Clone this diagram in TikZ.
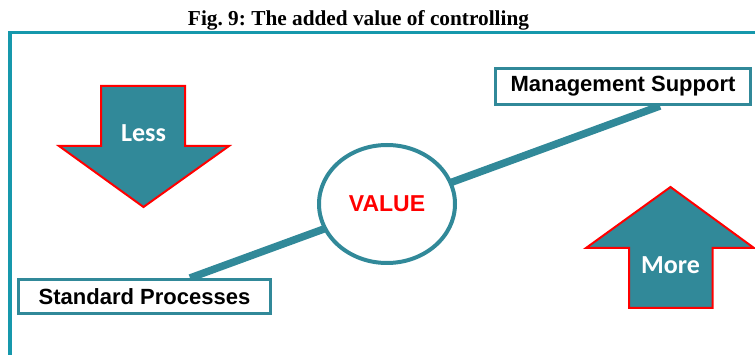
\documentclass[tikz,border=0pt]{standalone}
\usepackage{fontspec}
\setmainfont{Liberation Sans}
\newfontfamily\titlefont{Liberation Serif}
\newfontfamily\arrowfont{Carlito}
\usepackage{tikz}
\usetikzlibrary{shapes.geometric, backgrounds, calc}
\frenchspacing

\definecolor{frameteal}{RGB}{22,152,172}
\definecolor{shapeteal}{RGB}{49,137,153}

\tikzset{
    labelbox/.style={draw=shapeteal, line width=3pt, fill=white,
        inner sep=0pt, font=\fontsize{22}{26}\selectfont\bfseries},
    bigarrow/.style={fill=shapeteal, draw=red, line width=2pt, line join=miter},
    arrowtext/.style={text=white, font=\arrowfont\fontsize{26}{30}\selectfont\bfseries}
}

\begin{document}
\begin{tikzpicture}[x=1pt, y=-1pt]
    \useasboundingbox (0,0) rectangle (755,355);

    \node[anchor=base, font=\titlefont\fontsize{21.3}{24}\selectfont\bfseries] (title)
        at (358.5,26) {Fig. 9: The added value of controlling};

    % frame
    \coordinate (f1) at (755,32.5);
    \coordinate (f2) at (10,32.5);
    \coordinate (f3) at (10,355);
    \draw[frameteal, line width=3.4pt] (f1) -- (f2) -- (f3);

    \node[labelbox, minimum width=255pt, minimum height=36pt] (ms)
        at (623,86.5) {Management Support};
    \node[labelbox, minimum width=252pt, minimum height=34pt] (sp)
        at (144.5,296.5) {Standard Processes};
    \node[ellipse, draw=shapeteal, line width=4pt, fill=white,
        minimum width=136pt, minimum height=118pt, inner sep=0pt,
        text=red, font=\fontsize{23}{26}\selectfont\bfseries] (value)
        at (387,204) {VALUE};

    \begin{scope}[on background layer]
        \draw[shapeteal, line width=7.5pt] ($(sp.north)+(45.5,0)$) -- ($(ms.south)+(37,0)$);
    \end{scope}

    % less
    \draw[bigarrow] (101,86) -- (185,86) -- (185,146) -- (229,146) -- (143.5,207)
        -- (59,146) -- (101,146) -- cycle;
    \node[arrowtext] (less) at (143.5,133) {Less};

    % more
    \draw[bigarrow] (629,308) -- (712.5,308) -- (712.5,248) -- (754,248) -- (670.5,187)
        -- (586,248) -- (629,248) -- cycle;
    \node[arrowtext] (more) at (670.5,265) {More};
\end{tikzpicture}
\end{document}
